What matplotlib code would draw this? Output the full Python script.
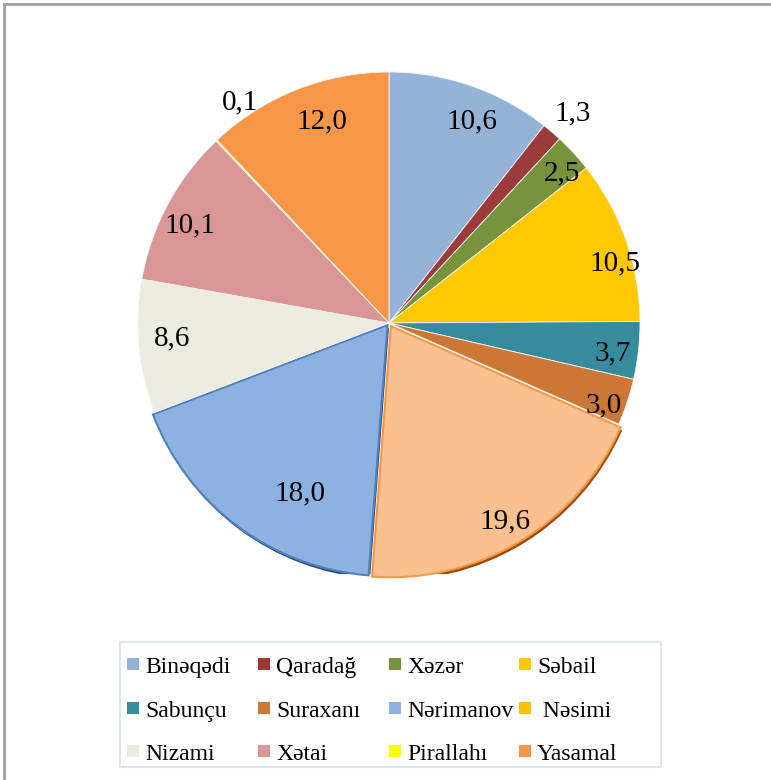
import matplotlib
matplotlib.use('agg')
import matplotlib.pyplot as plt
from matplotlib.patches import Wedge, Rectangle
from matplotlib.lines import Line2D
import numpy as np

# data, clockwise from the top
districts = ["Binəqədi", "Qaradağ", "Xəzər", "Səbail", "Sabunçu", "Suraxanı",
             "Nərimanov", " Nəsimi", "Nizami", "Xətai", "Pirallahı", "Yasamal"]
shares = [10.6, 1.3, 2.5, 10.5, 3.7, 3.0, 19.6, 18.0, 8.6, 10.1, 0.1, 12.0]

# colours of the slices as drawn, and of the legend keys
slice_colors = ["#95B3D7", "#9C3C3A", "#77933C", "#FFC800", "#378B9F", "#CC7736",
                "#FAC090", "#8DB2E2", "#EBEBE0", "#D99694", "#FFFF00", "#F79646"]
legend_colors = ["#95B3D7", "#9C3C3A", "#77933C", "#FFC800", "#378B9F", "#CC7736",
                 "#8DB4E2", "#FFC000", "#EBEBE0", "#D99694", "#FFFF00", "#F79646"]
explode = [0, 0, 0, 0, 0, 0, 0.015, 0.01, 0, 0, 0, 0]

# label placement: radius factor and angle shift (deg) per slice
lab_r = [0.870, 1.110, 0.912, 0.932, 0.900, 0.918, 0.900, 0.754, 0.867, 0.884, 1.059, 0.848]
lab_da = [-3.3, -0.6, -1.7, -4.4, -1.3, -2.7, -0.7, 9.3, -1.4, 2.1, -9.3, -3.3]

plt.rcParams['font.family'] = ['Liberation Serif', 'DejaVu Serif']

W, H = 771, 780
fig = plt.figure(figsize=(W / 100, H / 100), dpi=100)
ax = fig.add_axes([138 / W, (H - 574) / H, 502 / W, 502 / H])

wedges, _ = ax.pie(shares, colors=slice_colors, startangle=90, counterclock=False,
                   explode=explode, radius=1.0,
                   wedgeprops=dict(edgecolor='#F4F4F4', linewidth=0.6))

# shadow / edge on the two pulled-out slices
for i, (edge, dark) in {6: ("#F79646", "#9A4A0C"), 7: ("#4F81BD", "#2A4A78")}.items():
    w = wedges[i]
    cx, cy = w.center
    sh = Wedge((cx + 0.006, cy - 0.012), w.r, w.theta1, w.theta2,
               facecolor=dark, edgecolor='none', zorder=w.get_zorder() - 0.5)
    ax.add_patch(sh)
    w.set_edgecolor(edge)
    w.set_linewidth(1.5)

for w, v, r, da in zip(wedges, shares, lab_r, lab_da):
    mid = np.deg2rad((w.theta1 + w.theta2) / 2 + da)
    cx, cy = w.center
    ax.text(cx + r * np.cos(mid), cy + r * np.sin(mid), f"{v:.1f}".replace('.', ','),
            ha='center', va='center', fontsize=21, color='black')

ax.set_xlim(-1, 1)
ax.set_ylim(-1, 1)
ax.set_aspect('equal')
ax.axis('off')

# legend drawn by hand, 4 columns filled row by row (pixel layout)
def px(x, y):
    return x / W, 1 - y / H

fig.add_artist(Rectangle(px(120, 767), 541 / W, 125 / H, transform=fig.transFigure,
                         facecolor='white', edgecolor='#DCE6F2', linewidth=1.5))
col_x = [127, 258, 389, 519]
row_y = [658, 702, 745]
for k, (name, c) in enumerate(zip(districts, legend_colors)):
    x = col_x[k % 4]
    y = row_y[k // 4]
    fig.add_artist(Rectangle(px(x, y + 12), 12 / W, 12 / H, transform=fig.transFigure,
                             facecolor=c, edgecolor='none'))
    fig.text(*px(x + 18, y + 15), name, fontsize=17, ha='left', va='baseline')

# outer chart frame (top and left edges visible)
fig.add_artist(Line2D([4 / W, 1], [1 - 4 / H, 1 - 4 / H], color='#A0A0A0', lw=2))
fig.add_artist(Line2D([4 / W, 4 / W], [0, 1 - 4 / H], color='#A0A0A0', lw=2))

fig.savefig('out.png', dpi=100)
